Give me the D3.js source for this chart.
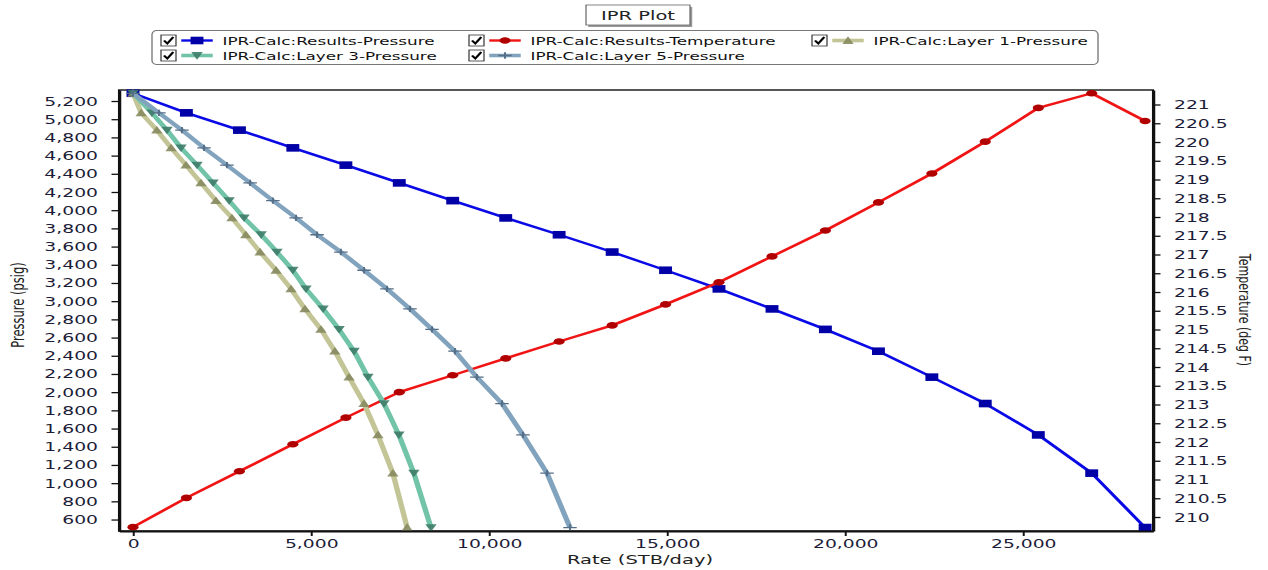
<!DOCTYPE html>
<html>
<head>
<meta charset="utf-8">
<script src="https://cdn.jsdelivr.net/npm/d3@7"></script>
<style>
  html, body { margin: 0; padding: 0; background: #fff; }
  svg { display: block; font-family: "DejaVu Sans", Verdana, sans-serif; }
</style>
</head>
<body>
<div id="chart"></div>
<script>
// values
const pressure = [5285, 5070, 4880, 4685, 4495, 4300, 4105, 3915, 3730, 3540,
  3340, 3135, 2915, 2690, 2450, 2165, 1875, 1530, 1110, 512];
const resultsRate = [0, 1500, 2990, 4490, 5980, 7480, 8980, 10470, 11970, 13460,
  14960, 16460, 17950, 19450, 20940, 22440, 23940, 25430, 26930, 28430];
const temperature = [209.73, 210.51, 211.22, 211.94, 212.65, 213.33, 213.78, 214.23, 214.68, 215.11,
  215.67, 216.26, 216.95, 217.64, 218.39, 219.16, 220.01, 220.91, 221.3, 220.56];
const layer1Rate = [0, 230, 670, 1070, 1490, 1910, 2330, 2780, 3170, 3570,
  4020, 4440, 4830, 5280, 5670, 6070, 6490, 6880, 7300, 7700];
const layer3Rate = [0, 530, 955, 1350, 1800, 2250, 2700, 3120, 3600, 4045,
  4490, 4860, 5340, 5790, 6210, 6600, 7050, 7470, 7890, 8370];
const layer5Rate = [0, 730, 1375, 1995, 2640, 3290, 3930, 4580, 5170, 5840,
  6490, 7135, 7780, 8400, 9045, 9660, 10365, 10955, 11630, 12275];

const xTicks = [0, 5000, 10000, 15000, 20000, 25000];
const pTicks = [600, 800, 1000, 1200, 1400, 1600, 1800, 2000, 2200, 2400, 2600, 2800,
  3000, 3200, 3400, 3600, 3800, 4000, 4200, 4400, 4600, 4800, 5000, 5200];
const tTicks = [210, 210.5, 211, 211.5, 212, 212.5, 213, 213.5, 214, 214.5, 215, 215.5,
  216, 216.5, 217, 217.5, 218, 218.5, 219, 219.5, 220, 220.5, 221];

const legendNames = ['IPR-Calc:Results-Pressure', 'IPR-Calc:Results-Temperature',
  'IPR-Calc:Layer 1-Pressure', 'IPR-Calc:Layer 3-Pressure', 'IPR-Calc:Layer 5-Pressure'];

// the picture is stretched sideways, so draw narrow and stretch the svg
const S = 1.5;
const W = 1268 / S;
const H = 570;
const plot = { left: 119 / S, right: 1153 / S, top: 90, bottom: 531 };

const svg = d3.select('#chart').append('svg')
  .attr('width', 1268).attr('height', H)
  .attr('viewBox', `0 0 ${W} ${H}`)
  .attr('preserveAspectRatio', 'none');

const x = d3.scaleLinear().domain([-393, 28652]).range([plot.left, plot.right]);
const yP = d3.scaleLinear().domain([474, 5321]).range([plot.bottom, plot.top]);
const yT = d3.scaleLinear().domain([209.627, 221.387]).range([plot.bottom, plot.top]);

const series = [
  { name: legendNames[0], rate: resultsRate, val: pressure, y: yP, line: '#0a0ae6', mark: '#0000a6', sym: 'square', w: 2.4 },
  { name: legendNames[1], rate: resultsRate, val: temperature, y: yT, line: '#f01414', mark: '#b00000', sym: 'circle', w: 2.4 },
  { name: legendNames[2], rate: layer1Rate, val: pressure, y: yP, line: '#c3c596', mark: '#87895f', sym: 'up', w: 3.6 },
  { name: legendNames[3], rate: layer3Rate, val: pressure, y: yP, line: '#72c4a8', mark: '#3e7c69', sym: 'down', w: 3.6 },
  { name: legendNames[4], rate: layer5Rate, val: pressure, y: yP, line: '#82a3bd', mark: '#566f88', sym: 'plus', w: 3.6 },
];

function drawMarker(g, sym, color) {
  if (sym === 'square') {
    g.append('rect').attr('x', -4.3).attr('y', -3.8).attr('width', 8.6).attr('height', 7.6).attr('fill', color);
  } else if (sym === 'circle') {
    g.append('ellipse').attr('rx', 3.7).attr('ry', 3.3).attr('fill', color);
  } else if (sym === 'up') {
    g.append('path').attr('d', 'M0,-4.2L3.8,3.4L-3.8,3.4Z').attr('fill', color).attr('opacity', 0.9);
  } else if (sym === 'down') {
    g.append('path').attr('d', 'M0,4.2L3.8,-3.4L-3.8,-3.4Z').attr('fill', color).attr('opacity', 0.9);
  } else {
    g.append('path').attr('d', 'M-4.5,0H4.5M0,-3.2V3.2').attr('stroke', color).attr('stroke-width', 1.3).attr('fill', 'none');
  }
}

// plot frame
svg.append('rect')
  .attr('x', plot.left).attr('y', plot.top)
  .attr('width', plot.right - plot.left).attr('height', plot.bottom - plot.top)
  .attr('fill', '#fff').attr('stroke', '#111').attr('stroke-width', 1.4);

// series
series.forEach((s) => {
  const pts = s.rate.map((r, i) => [x(r), s.y(s.val[i])]);
  svg.append('path')
    .attr('d', d3.line()(pts))
    .attr('fill', 'none')
    .attr('stroke', s.line)
    .attr('stroke-width', s.w)
    .attr('stroke-linejoin', 'round');
  svg.append('g').selectAll('g')
    .data(pts)
    .join('g')
    .attr('transform', (d) => `translate(${d[0]},${d[1]})`)
    .each(function () { drawMarker(d3.select(this), s.sym, s.mark); });
});

// axes
function styleAxis(g) {
  g.select('.domain').attr('stroke', '#111').attr('stroke-width', 2);
  g.selectAll('.tick line').attr('stroke', '#111').attr('stroke-width', 1.3);
  g.selectAll('.tick text').attr('fill', '#1c1c38').attr('font-size', '12.5px')
    .attr('font-family', '"DejaVu Sans", Verdana, sans-serif');
}

svg.append('g')
  .attr('transform', `translate(${plot.left},0)`)
  .call(d3.axisLeft(yP).tickValues(pTicks).tickFormat(d3.format(',')).tickSize(5).tickSizeOuter(0).tickPadding(9))
  .call(styleAxis);

svg.append('g')
  .attr('transform', `translate(${plot.right},0)`)
  .call(d3.axisRight(yT).tickValues(tTicks).tickFormat(d3.format('')).tickSize(5).tickSizeOuter(0).tickPadding(9))
  .call(styleAxis);

svg.append('g')
  .attr('transform', `translate(0,${plot.bottom})`)
  .call(d3.axisBottom(x).tickValues(xTicks).tickFormat(d3.format(',')).tickSize(5).tickSizeOuter(0).tickPadding(3))
  .call(styleAxis);

// axis titles
svg.append('text')
  .attr('x', 640 / S).attr('y', 564)
  .attr('text-anchor', 'middle').attr('font-size', '13px').attr('fill', '#222')
  .text('Rate (STB/day)');

svg.append('text')
  .attr('transform', `translate(${24 / S},305) rotate(-90)`)
  .attr('text-anchor', 'middle').attr('font-size', '11.5px').attr('fill', '#222')
  .text('Pressure (psig)');

svg.append('text')
  .attr('transform', `translate(${1239 / S},310) rotate(90)`)
  .attr('text-anchor', 'middle').attr('font-size', '11px').attr('fill', '#222')
  .text('Temperature (deg F)');

// title box
const tb = { x0: 586 / S, x1: 690 / S, y0: 5, y1: 25 };
svg.append('rect')
  .attr('x', tb.x0 + 1.5).attr('y', tb.y0 + 2)
  .attr('width', tb.x1 - tb.x0).attr('height', tb.y1 - tb.y0)
  .attr('fill', '#9a9a9a');
svg.append('rect')
  .attr('x', tb.x0).attr('y', tb.y0)
  .attr('width', tb.x1 - tb.x0).attr('height', tb.y1 - tb.y0)
  .attr('fill', '#fff').attr('stroke', '#666').attr('stroke-width', 0.8);
svg.append('text')
  .attr('x', (tb.x0 + tb.x1) / 2).attr('y', 20)
  .attr('text-anchor', 'middle').attr('font-size', '13px').attr('fill', '#222')
  .text('IPR Plot');

// legend
svg.append('rect')
  .attr('x', 152 / S).attr('y', 30.5)
  .attr('width', (1098 - 152) / S).attr('height', 34)
  .attr('rx', 3).attr('ry', 4)
  .attr('fill', '#fff').attr('stroke', '#777').attr('stroke-width', 0.9);

const legendPos = [
  { cx: 161, row: 0 }, { cx: 469, row: 0 }, { cx: 812, row: 0 },
  { cx: 161, row: 1 }, { cx: 469, row: 1 },
];

series.forEach((s, i) => {
  const p = legendPos[i];
  const cy = 40.5 + p.row * 15;
  const g = svg.append('g').attr('transform', `translate(${p.cx / S},${cy})`);
  // checkbox
  g.append('rect').attr('x', 0).attr('y', -5.5).attr('width', 10).attr('height', 11)
    .attr('fill', '#fff').attr('stroke', '#333').attr('stroke-width', 0.8);
  g.append('path').attr('d', 'M2,0L4.2,3L8.2,-3.5')
    .attr('fill', 'none').attr('stroke', '#000').attr('stroke-width', 1.6);
  // symbol
  const sx = 13.5;
  g.append('line').attr('x1', sx).attr('x2', sx + 21).attr('y1', 0).attr('y2', 0)
    .attr('stroke', s.line).attr('stroke-width', s.w);
  const m = g.append('g').attr('transform', `translate(${sx + 10.5},0)`);
  drawMarker(m, s.sym, s.mark);
  g.append('text')
    .attr('x', 41).attr('y', 4)
    .attr('font-size', '11.2px').attr('fill', '#111')
    .text(s.name);
});
</script>
</body>
</html>
